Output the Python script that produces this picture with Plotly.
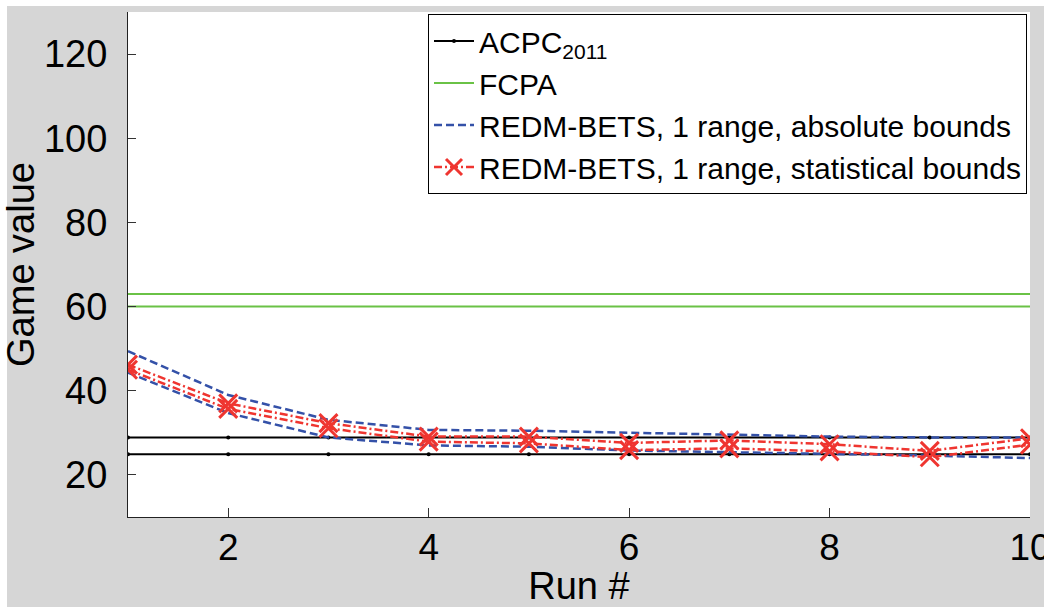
import plotly.graph_objects as go

runs = [1, 2, 3, 4, 5, 6, 7, 8, 9, 10]
acpc_hi = [28.9, 28.9, 28.9, 28.9, 28.9, 28.9, 28.9, 28.9, 28.9, 28.9]
acpc_lo = [24.9, 24.9, 24.9, 24.9, 24.9, 24.9, 24.9, 24.9, 24.9, 24.9]
fcpa_hi = [63.0, 63.0, 63.0, 63.0, 63.0, 63.0, 63.0, 63.0, 63.0, 63.0]
fcpa_lo = [60.0, 60.0, 60.0, 60.0, 60.0, 60.0, 60.0, 60.0, 60.0, 60.0]
abs_hi = [49.4, 39.0, 33.1, 30.7, 30.5, 30.0, 29.6, 29.1, 28.9, 28.9]
abs_lo = [44.3, 34.7, 28.9, 27.0, 26.7, 25.8, 25.4, 25.0, 24.6, 24.0]
stat_hi = [46.2, 37.0, 32.3, 29.1, 29.1, 27.6, 28.2, 27.3, 25.7, 28.7]
stat_lo = [45.0, 35.7, 31.1, 27.9, 27.5, 25.9, 26.3, 25.6, 24.2, 27.2]

names = ["ACPC<sub>2011</sub>", "FCPA", "REDM-BETS, 1 range, absolute bounds",
         "REDM-BETS, 1 range, statistical bounds"]
y_ticks = [20, 40, 60, 80, 100, 120]
x_ticks = [2, 4, 6, 8, 10]

FONT = "Liberation Sans, Arial, Helvetica, sans-serif"
BLACK = "#000000"
GREEN = "#6ac246"
BLUE = "#3451a8"
RED = "#ef3530"

fig = go.Figure()

for i, ys in enumerate([acpc_hi, acpc_lo]):
    fig.add_trace(go.Scatter(
        x=runs, y=ys, mode="lines+markers", name=names[0], legendgroup="acpc",
        showlegend=(i == 0), line=dict(color=BLACK, width=2),
        marker=dict(symbol="circle", size=4, color=BLACK)))

for i, ys in enumerate([fcpa_hi, fcpa_lo]):
    fig.add_trace(go.Scatter(
        x=runs, y=ys, mode="lines", name=names[1], legendgroup="fcpa",
        showlegend=(i == 0), line=dict(color=GREEN, width=2)))

for i, ys in enumerate([abs_hi, abs_lo]):
    fig.add_trace(go.Scatter(
        x=runs, y=ys, mode="lines", name=names[2], legendgroup="abs",
        showlegend=(i == 0), line=dict(color=BLUE, width=2.5, dash="8px,4px")))

for i, ys in enumerate([stat_hi, stat_lo]):
    fig.add_trace(go.Scatter(
        x=runs, y=ys, mode="lines+markers", name=names[3], legendgroup="stat",
        showlegend=(i == 0),
        line=dict(color=RED, width=2.5, dash="8px,3px,2px,3px"),
        marker=dict(symbol="x-thin", size=18, color=RED,
                    line=dict(color=RED, width=3))))

W, H = 1044, 607
L, R, T, B = 128, 14, 12, 90
pw, ph = W - L - R, H - T - B

def px_x(p):
    return (p - L) / pw

def px_y(p):
    return 1 - (p - T) / ph

shapes = [
    dict(type="rect", xref="paper", yref="paper", layer="below",
         x0=px_x(0), x1=px_x(7), y0=px_y(H), y1=px_y(0),
         fillcolor="white", line=dict(width=0)),
    dict(type="rect", xref="paper", yref="paper", layer="below",
         x0=px_x(0), x1=px_x(W), y0=px_y(6), y1=px_y(0),
         fillcolor="white", line=dict(width=0)),
]

fig.update_layout(
    width=W, height=H,
    margin=dict(l=L, r=R, t=T, b=B, autoexpand=False),
    paper_bgcolor="#d6d6d6",
    plot_bgcolor="white",
    font=dict(family=FONT, color="black"),
    shapes=shapes,
    showlegend=True,
    legend=dict(
        x=px_x(1027), y=px_y(14), xanchor="right", yanchor="top",
        bgcolor="white", bordercolor="black", borderwidth=1,
        font=dict(family=FONT, size=30, color="black"),
        tracegroupgap=0, itemwidth=40,
    ),
    xaxis=dict(
        range=[1, 10], tickvals=x_ticks, ticktext=[str(v) for v in x_ticks],
        ticks="inside", ticklen=9, tickcolor="#333333", tickwidth=1,
        showline=True, linecolor="#222222", linewidth=1, mirror=False,
        showgrid=False, zeroline=False, automargin=False,
        ticklabeloverflow="allow",
        tickfont=dict(family=FONT, size=37),
        title=dict(text="Run #", font=dict(family=FONT, size=38), standoff=26),
        ticklabelstandoff=-2,
    ),
    yaxis=dict(
        range=[10, 130], tickvals=y_ticks, ticktext=[str(v) for v in y_ticks],
        ticks="inside", ticklen=8, tickcolor="#333333", tickwidth=1,
        showline=True, linecolor="#222222", linewidth=1, mirror=False,
        showgrid=False, zeroline=False, automargin=False,
        ticklabeloverflow="allow",
        tickfont=dict(family=FONT, size=38),
        title=dict(text="Game value", font=dict(family=FONT, size=38), standoff=4),
        ticklabelstandoff=12,
    ),
)

fig.write_html("out.html")
